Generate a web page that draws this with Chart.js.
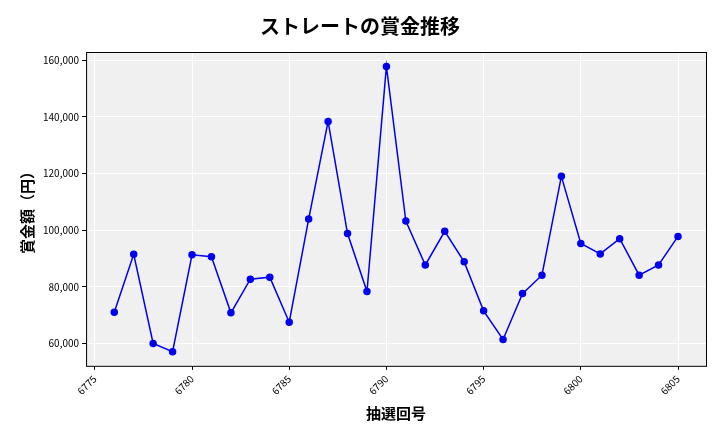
<!DOCTYPE html>
<html><head><meta charset="utf-8">
<script src="https://cdn.jsdelivr.net/npm/chart.js@4"></script>
<style>body{margin:0;background:#fff}#w{width:720px;height:432px}</style></head>
<body><div id="w"><canvas id="c"></canvas></div>
<script>
const draws=[6776,6777,6778,6779,6780,6781,6782,6783,6784,6785,6786,6787,6788,6789,6790,6791,6792,6793,6794,6795,6796,6797,6798,6799,6800,6801,6802,6803,6804,6805];
const prizes=[71000,91500,60000,57100,91300,90600,70800,82700,83400,67500,103900,138400,98800,78300,157800,103200,87700,99600,88800,71500,61400,77600,84100,119000,95300,91600,97000,84100,87700,97800];
const bg={id:'bg',beforeDraw(ch){const a=ch.chartArea,x=ch.ctx;x.save();x.fillStyle='#f0f0f0';x.fillRect(a.left,a.top,a.right-a.left,a.bottom-a.top);x.restore();},
afterDraw(ch){const a=ch.chartArea,x=ch.ctx;x.save();x.strokeStyle='#000';x.lineWidth=1;x.strokeRect(a.left+.5,a.top+.5,a.right-a.left,a.bottom-a.top);x.restore();}};
const F='"Noto Sans CJK JP","Noto Sans",sans-serif';
new Chart(document.getElementById('c'),{type:'line',
data:{datasets:[{data:draws.map((d,i)=>({x:d,y:prizes[i]})),borderColor:'#0000ee',backgroundColor:'#0000ee',borderWidth:1.5,pointRadius:3,tension:0}]},
options:{responsive:true,maintainAspectRatio:false,animation:false,
layout:{padding:{left:14,right:14,top:10,bottom:6}},
plugins:{legend:{display:false},title:{display:true,text:'ストレートの賞金推移',font:{family:F,size:20,weight:'bold'},color:'#000',padding:{top:4,bottom:14}}},
scales:{x:{type:'linear',min:6774.55,max:6806.44,afterBuildTicks(ax){ax.ticks=[6775,6780,6785,6790,6795,6800,6805].map(v=>({value:v}));},
ticks:{maxRotation:45,minRotation:45,color:'#000',font:{family:F,size:10},callback:v=>String(v)},grid:{color:'#fff',drawTicks:true,tickColor:'#000',tickLength:4},border:{display:false},
title:{display:true,text:'抽選回号',font:{family:F,size:15,weight:'bold'},color:'#000'}},
y:{min:52100,max:162900,afterBuildTicks(ax){ax.ticks=[60000,80000,100000,120000,140000,160000].map(v=>({value:v}));},
ticks:{color:'#000',font:{family:F,size:10},callback:v=>v.toLocaleString('en-US')},grid:{color:'#fff',tickColor:'#000',tickLength:4},border:{display:false},
title:{display:true,text:'賞金額（円）',font:{family:F,size:15,weight:'bold'},color:'#000'}}}},
plugins:[bg]});
</script></body></html>
